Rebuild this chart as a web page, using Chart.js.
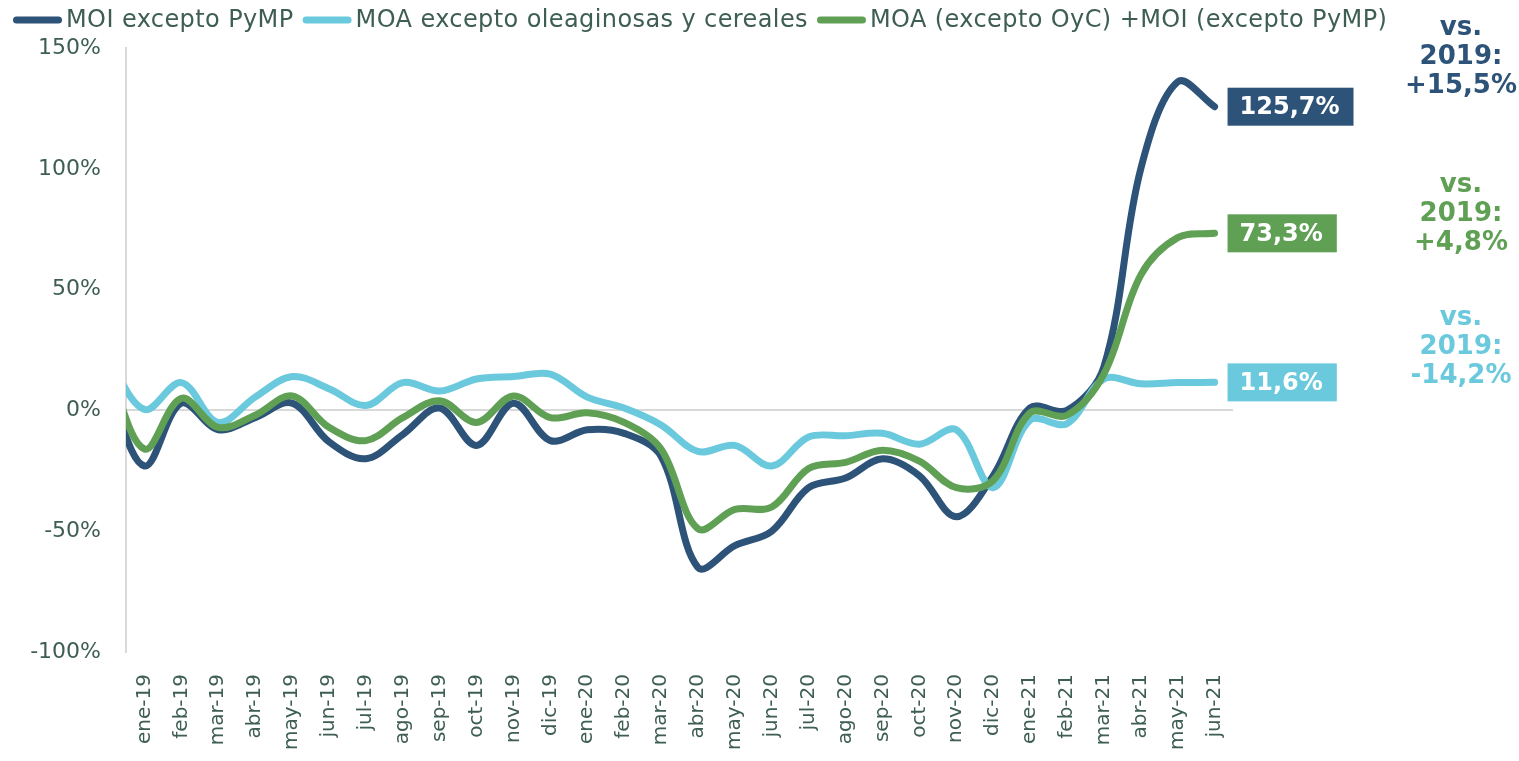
<!DOCTYPE html>
<html>
<head>
<meta charset="utf-8">
<script src="https://cdn.jsdelivr.net/npm/chart.js@4.4.0/dist/chart.umd.min.js"></script>
<style>
  body { margin: 0; background: #fff; }
  #chart { display: block; }
</style>
</head>
<body>
<canvas id="chart" width="1519" height="761"></canvas>
<script>
// months (dic-18 sits just left of the axis, its segment gets clipped)
const months = ['dic-18', 'ene-19', 'feb-19', 'mar-19', 'abr-19', 'may-19', 'jun-19', 'jul-19', 'ago-19', 'sep-19',
    'oct-19', 'nov-19', 'dic-19', 'ene-20', 'feb-20', 'mar-20', 'abr-20', 'may-20', 'jun-20', 'jul-20',
    'ago-20', 'sep-20', 'oct-20', 'nov-20', 'dic-20', 'ene-21', 'feb-21', 'mar-21', 'abr-21', 'may-21', 'jun-21'];

const seriesNames = ['MOI excepto PyMP', 'MOA excepto oleaginosas y cereales', 'MOA (excepto OyC) +MOI (excepto PyMP)'];

// variación interanual, %
const moi = [10, -23, 3, -8, -3, 3, -13, -20, -10, 1, -14.5, 3, -12.5, -8, -9.5, -19, -65, -56, -50, -32,
    -28, -20, -27, -44, -27, 1, 0, 18, 100, 136, 125.7];
const moa = [22, 0.4, 11.5, -5, 5.5, 14, 9, 2, 11.5, 8, 13, 14, 15, 5.5, 1, -6, -17, -14.5, -23, -11,
    -10.5, -9.5, -14, -8, -32, -4, -5.5, 13, 11, 11.5, 11.6];
const total = [18, -16, 5, -7, -2, 6, -7, -12.5, -3, 4, -5, 6, -3, -1, -5, -16, -49, -41, -40, -24,
    -21.5, -16.5, -21, -32, -29, -1, -2, 15, 56, 71.5, 73.3];

// vs. 2019
const vs2019 = [15.5, -14.2, 4.8];

const yTicks = [-100, -50, 0, 50, 100, 150];

const colors = ['#2D5379', '#6AC9DC', '#5FA055'];
const textColor = '#3E5E54';
const FONT = "'DejaVu Sans', Verdana, sans-serif";

function fmt(v) {
    return v.toFixed(1).replace('.', ',') + '%';
}

// legend drawn by hand so it can run wider than the plot area
const legendPlugin = {
    id: 'topLegend',
    afterDraw(chart) {
        const ctx = chart.ctx;
        let x = 13;
        const y = 20;
        ctx.save();
        ctx.font = '24px ' + FONT;
        ctx.letterSpacing = '0.4px';
        ctx.textBaseline = 'middle';
        ctx.textAlign = 'left';
        chart.data.datasets.forEach((ds) => {
            ctx.strokeStyle = ds.borderColor;
            ctx.lineWidth = 7;
            ctx.lineCap = 'round';
            ctx.beginPath();
            ctx.moveTo(x + 3.5, y);
            ctx.lineTo(x + 45.5, y);
            ctx.stroke();
            ctx.fillStyle = textColor;
            ctx.fillText(ds.label, x + 53, y + 1);
            x += 53 + ctx.measureText(ds.label).width + 9;
        });
        ctx.restore();
    }
};

// value boxes at the end of each line + "vs. 2019" notes on the right
const endLabels = {
    id: 'endLabels',
    afterDatasetsDraw(chart) {
        const ctx = chart.ctx;
        const yScale = chart.scales.y;
        const noteAt = [146, 26, 81];
        ctx.save();
        chart.data.datasets.forEach((ds, i) => {
            const meta = chart.getDatasetMeta(i);
            const pt = meta.data[meta.data.length - 1];
            const txt = fmt(ds.data[ds.data.length - 1]);
            ctx.font = 'bold 24px ' + FONT;
            const w = ctx.measureText(txt).width;
            ctx.fillStyle = ds.borderColor;
            ctx.fillRect(pt.x + 13, pt.y - 19, w + 26, 38);
            ctx.fillStyle = '#fff';
            ctx.textAlign = 'left';
            ctx.textBaseline = 'middle';
            ctx.fillText(txt, pt.x + 25, pt.y + 1);

            // note
            const v = vs2019[i];
            const lines = ['vs.', '2019:', (v > 0 ? '+' : '') + fmt(v)];
            const cy = yScale.getPixelForValue(noteAt[i]);
            ctx.font = 'bold 26px ' + FONT;
            ctx.textAlign = 'center';
            ctx.fillStyle = ds.borderColor;
            lines.forEach((l, k) => {
                ctx.fillText(l, 1461, cy + (k - 1) * 29);
            });
        });
        ctx.restore();
    }
};

const ctx = document.getElementById('chart').getContext('2d');
new Chart(ctx, {
    type: 'line',
    data: {
        labels: months,
        datasets: [
            { label: seriesNames[0], data: moi, borderColor: colors[0], order: 2 },
            { label: seriesNames[1], data: moa, borderColor: colors[1], order: 1 },
            { label: seriesNames[2], data: total, borderColor: colors[2], order: 0 }
        ]
    },
    options: {
        responsive: false,
        animation: false,
        layout: { padding: { top: 48, right: 286, left: 0, bottom: 0 } },
        elements: {
            line: { borderWidth: 7, tension: 0.35, borderCapStyle: 'round', borderJoinStyle: 'round', fill: false },
            point: { radius: 0, hoverRadius: 0 }
        },
        plugins: {
            legend: { display: false },
            tooltip: { enabled: false }
        },
        scales: {
            x: {
                type: 'category',
                min: 'ene-19',
                offset: true,
                grid: { display: false },
                border: { display: false },
                ticks: {
                    autoSkip: false,
                    maxRotation: 90,
                    minRotation: 90,
                    padding: 14,
                    color: textColor,
                    font: { family: FONT, size: 20 }
                },
                afterFit(scale) { scale.height = 109; }
            },
            y: {
                min: yTicks[0],
                max: yTicks[yTicks.length - 1],
                afterBuildTicks(scale) {
                    scale.ticks = yTicks.map(v => ({ value: v }));
                },
                ticks: {
                    padding: 25,
                    color: textColor,
                    font: { family: FONT, size: 22 },
                    callback: v => v + '%'
                },
                grid: {
                    drawTicks: false,
                    lineWidth: 2,
                    color: c => (c.tick && c.tick.value === 0 ? '#D9D9D9' : 'rgba(0,0,0,0)')
                },
                border: { display: true, color: '#D9D9D9', width: 2 },
                afterFit(scale) { scale.width = 126; }
            }
        }
    },
    plugins: [legendPlugin, endLabels]
});
</script>
</body>
</html>
